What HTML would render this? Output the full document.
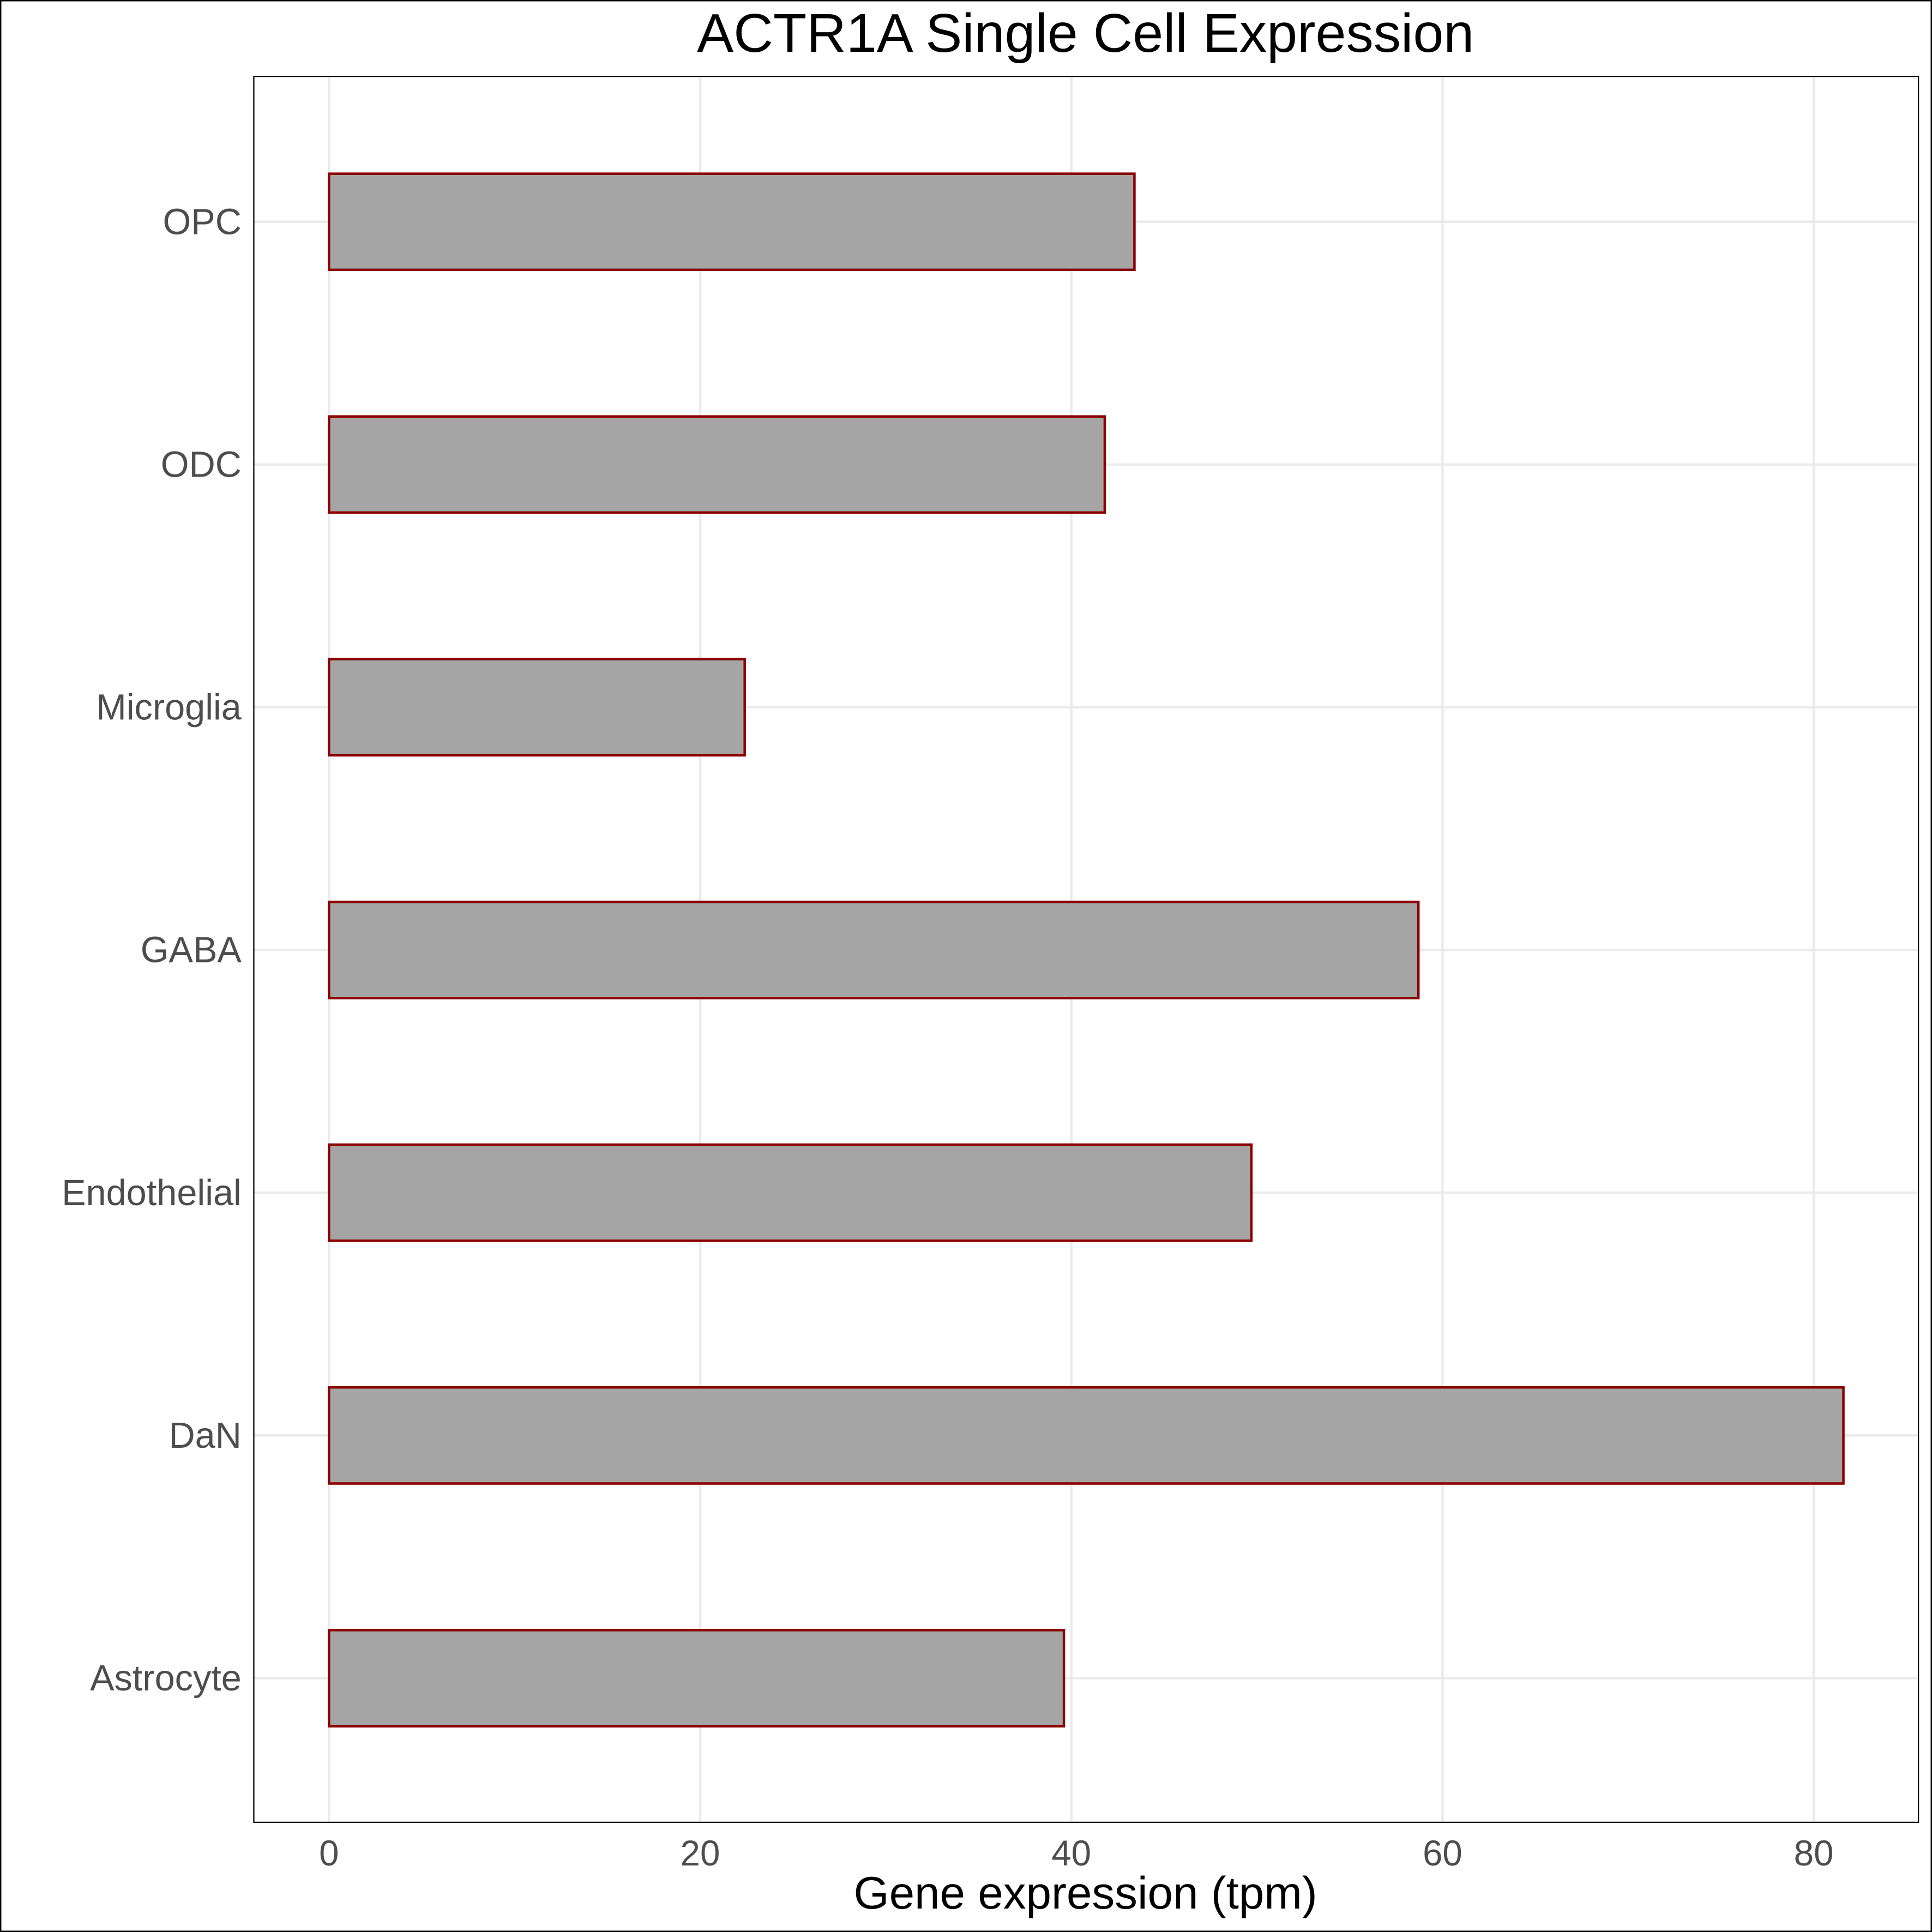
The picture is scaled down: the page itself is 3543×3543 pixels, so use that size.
<!DOCTYPE html>
<html><head><meta charset="utf-8"><style>
html,body{margin:0;padding:0;background:#fff}
svg{display:block}
text{font-family:"Liberation Sans",Arial,sans-serif}
</style></head><body>
<svg id="chart" width="3543" height="3543" viewBox="0 0 1568 1568" xmlns="http://www.w3.org/2000/svg">
<rect x="0.5" y="0.5" width="1567" height="1567" fill="#fff" stroke="#000" stroke-width="1.2"/>
<text x="881" y="42" font-size="44.5" text-anchor="middle" fill="#000">ACTR1A Single Cell Expression</text>
<g id="grid"></g>
<g id="bars"></g>
<rect x="206" y="62" width="1351" height="1417" fill="none" stroke="#000" stroke-width="1"/>
<g id="ylabels"></g>
<g id="xlabels"></g>
<text x="881" y="1549" font-size="37" text-anchor="middle" fill="#000">Gene expression (tpm)</text>
</svg>
<script>
const categories = ["OPC","ODC","Microglia","GABA","Endothelial","DaN","Astrocyte"];
const values = [43.4, 41.8, 22.4, 58.7, 49.7, 81.6, 39.6];
const xTicks = [0, 20, 40, 60, 80];

const NS = "http://www.w3.org/2000/svg";
const px0 = 267, pxPerUnit = (1472 - 267) / 80;
function xScale(v){ return px0 + v * pxPerUnit; }
const yTop = 180, yStep = 197, halfH = 39;
function yScale(i){ return yTop + i * yStep; }
function mk(tag, attrs){ const e = document.createElementNS(NS, tag); for (const k in attrs) e.setAttribute(k, attrs[k]); return e; }

const grid = document.getElementById("grid");
const bars = document.getElementById("bars");
const yl = document.getElementById("ylabels");
const xl = document.getElementById("xlabels");

xTicks.forEach(t => {
  const x = xScale(t);
  const l = mk("line", {x1:x, x2:x, y1:62, y2:1479, stroke:"#ebebeb", "stroke-width":2});
  
  
  grid.appendChild(l);
  const tk = mk("text", {x:x, y:1514, "font-size":29, "text-anchor":"middle", fill:"#4d4d4d"});
  tk.textContent = t;
  
  
  xl.appendChild(tk);
});

categories.forEach((c, i) => {
  const y = yScale(i);
  const l = mk("line", {x1:206, x2:1557, y1:y, y2:y, stroke:"#ebebeb", "stroke-width":2});
  
  
  grid.appendChild(l);
  const r = mk("rect", {x:xScale(0), y:y - halfH, width:xScale(values[i]) - xScale(0), height:halfH * 2, fill:"#a5a5a5", stroke:"#8b0000", "stroke-width":2});
  
  
  bars.appendChild(r);
  const t = mk("text", {x:196, y:y + 10, "font-size":29.5, "text-anchor":"end", fill:"#4d4d4d"});
  t.textContent = c;
  
  
  yl.appendChild(t);
});
</script>
</body></html>
